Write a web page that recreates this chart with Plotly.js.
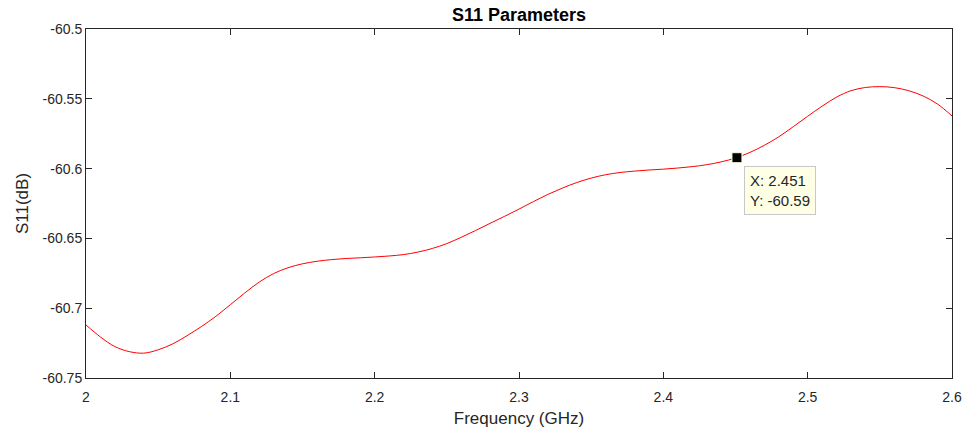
<!DOCTYPE html>
<html>
<head>
<meta charset="utf-8">
<script src="https://cdn.plot.ly/plotly-3.0.1.min.js"></script>
<style>html,body{margin:0;padding:0;background:#fff;}#chart{width:965px;height:437px;}</style>
</head>
<body>
<div id="chart"></div>
<script>
const freqGHz = [2.00,2.01,2.02,2.03,2.04,2.05,2.06,2.07,2.08,2.09,
  2.10,2.11,2.12,2.13,2.14,2.15,2.16,2.17,2.18,2.19,
  2.20,2.21,2.22,2.23,2.24,2.25,2.26,2.27,2.28,2.29,
  2.30,2.31,2.32,2.33,2.34,2.35,2.36,2.37,2.38,2.39,
  2.40,2.41,2.42,2.43,2.44,2.45,2.46,2.47,2.48,2.49,
  2.50,2.51,2.52,2.53,2.54,2.55,2.56,2.57,2.58,2.59,2.60];
const s11dB = [-60.7120,-60.7206,-60.7275,-60.7311,-60.7322,-60.7298,-60.7256,-60.7197,-60.7131,-60.7058,
  -60.6975,-60.6891,-60.6813,-60.6752,-60.6710,-60.6682,-60.6664,-60.6652,-60.6644,-60.6639,
  -60.6633,-60.6626,-60.6616,-60.6598,-60.6572,-60.6537,-60.6492,-60.6443,-60.6392,-60.6342,
  -60.6290,-60.6236,-60.6185,-60.6140,-60.6100,-60.6068,-60.6044,-60.6028,-60.6018,-60.6010,
  -60.6004,-60.5996,-60.5986,-60.5972,-60.5952,-60.5924,-60.5884,-60.5833,-60.5772,-60.5700,
  -60.5625,-60.5553,-60.5488,-60.5442,-60.5419,-60.5413,-60.5420,-60.5442,-60.5480,-60.5538,-60.5623];
const tipX = [2.451];
const tipY = [-60.5922];
const tipText = "X: 2.451<br>Y: -60.59";
const xTickVals = [2, 2.1, 2.2, 2.3, 2.4, 2.5, 2.6];
const xTickText = ["2", "2.1", "2.2", "2.3", "2.4", "2.5", "2.6"];
const yTickVals = [-60.75, -60.7, -60.65, -60.6, -60.55, -60.5];
const yTickText = ["-60.75", "-60.7", "-60.65", "-60.6", "-60.55", "-60.5"];

const FONT = 'Liberation Sans, Arial, sans-serif';
const axisCommon = {
  showgrid: false, zeroline: false, showline: true, linecolor: '#262626', linewidth: 1,
  ticks: 'inside', ticklen: 6, tickcolor: '#262626', mirror: 'ticks',
  tickfont: {family: FONT, size: 14, color: '#262626'}
};

const data = [
  {x: freqGHz, y: s11dB, type: 'scatter', mode: 'lines', line: {color: '#ff0000', width: 1, shape: 'spline', smoothing: 1}, hoverinfo: 'skip'},
  {x: tipX, y: tipY, type: 'scatter', mode: 'markers',
   marker: {symbol: 'square', size: 10, color: '#000000', line: {color: '#ffffe1', width: 1}}, hoverinfo: 'skip'}
];

const layout = {
  width: 965, height: 437,
  margin: {l: 86, r: 13, t: 29, b: 59},
  paper_bgcolor: '#ffffff', plot_bgcolor: '#ffffff',
  showlegend: false,
  title: {text: '<b>S11 Parameters</b>', x: 0.5379, xanchor: 'center', y: 0.966, yanchor: 'middle',
    font: {family: FONT, size: 18, color: '#000000'}},
  xaxis: Object.assign({}, axisCommon, {range: [2, 2.6], tickvals: xTickVals, ticktext: xTickText,
    ticklabelstandoff: 6,
    title: {text: 'Frequency (GHz)', standoff: 8, font: {family: FONT, size: 17, color: '#262626'}}}),
  yaxis: Object.assign({}, axisCommon, {range: [-60.75, -60.5], tickvals: yTickVals, ticktext: yTickText,
    title: {text: 'S11(dB)', standoff: 9, font: {family: FONT, size: 17, color: '#262626'}}}),
  annotations: [{
    x: tipX[0], y: tipY[0], xref: 'x', yref: 'y', text: tipText, showarrow: false,
    xanchor: 'left', yanchor: 'top', xshift: 7, yshift: -8, align: 'left',
    bgcolor: '#ffffe6', bordercolor: '#c8c8c8', borderwidth: 1, borderpad: 5,
    font: {family: FONT, size: 15, color: '#262626'}
  }]
};

Plotly.newPlot('chart', data, layout, {displayModeBar: false, staticPlot: true});
</script>
</body>
</html>
